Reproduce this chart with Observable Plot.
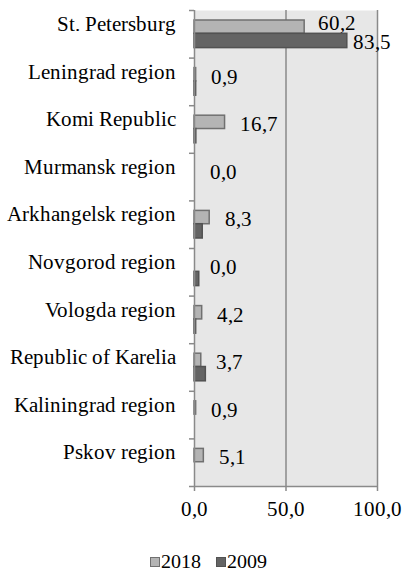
<!DOCTYPE html>
<html><head><meta charset="utf-8">
<script src="https://cdn.jsdelivr.net/npm/d3@7"></script>
<script src="https://cdn.jsdelivr.net/npm/@observablehq/plot@0.6"></script>
<style>
@font-face{font-family:"RefSerif";src:local("Liberation Serif"),local("LiberationSerif"),local("LiberationSerif-Regular"),local("Liberation Serif Regular"),local("Times New Roman"),local("DejaVu Serif"),local("DejaVuSerif"),local("Noto Serif"),local("NotoSerif-Regular");}
body{margin:0;background:#fff;font-family:"RefSerif","Liberation Serif","Times New Roman",Times,"DejaVu Serif",serif;position:relative;width:402px;height:572px;overflow:hidden;}
#legend{position:absolute;top:551px;left:150px;font-size:20px;line-height:20px;color:#000;white-space:nowrap;}
#legend .sw{display:inline-block;width:8px;height:8px;border:1px solid;vertical-align:1px;}
</style></head><body><div id="chart"></div><div id="legend"></div>
<script>
const categories = ["St. Petersburg","Leningrad region","Komi Republic","Murmansk region","Arkhangelsk region","Novgorod region","Vologda region","Republic of Karelia","Kaliningrad region","Pskov region"];
const values2018 = [60.2, 0.9, 16.7, 0.0, 8.3, 0.0, 4.2, 3.7, 0.9, 5.1];
const values2009 = [83.5, 0.9, 1.0, 0.0, 4.5, 2.6, 0.9, 6.2, 0.0, 0.0];
const labeled2009 = ["St. Petersburg"];
const xTicks = [0, 50, 100];
const seriesNames = ["2018", "2009"];
const seriesFill = ["#b4b4b4", "#646464"];
const seriesStroke = ["#707070", "#525252"];
const axisColor = "#8a8a8a";
const fontStack = "RefSerif, 'Liberation Serif', 'Times New Roman', Times, 'DejaVu Serif', serif";

const fmt = v => v.toFixed(1).replace(".", ",");
const rows = categories.map((c, i) => ({category: c, i, v2018: values2018[i], v2009: values2009[i]}));
const nudged = rows.filter(d => labeled2009.includes(d.category));
const plain = rows.filter(d => !labeled2009.includes(d.category));

const chart = Plot.plot({
  width: 402, height: 535,
  marginLeft: 194, marginRight: 25, marginTop: 10, marginBottom: 49,
  style: {fontFamily: fontStack, fontSize: "21px", color: "#000", background: "#fff"},
  x: {domain: [0, 100]},
  y: {domain: [categories.length, 0]},
  marks: [
    Plot.frame({fill: "#e7e7e7", stroke: null}),
    Plot.gridX(xTicks.slice(1), {stroke: axisColor, strokeOpacity: 1, strokeWidth: 1.5}),
    Plot.rect(rows.filter(d => d.v2018 > 0), {x1: 0, x2: "v2018", y1: d => d.i + 0.21, y2: d => d.i + 0.49, fill: seriesFill[0], stroke: seriesStroke[0], strokeWidth: 1.5}),
    Plot.rect(rows.filter(d => d.v2009 > 0), {x1: 0, x2: "v2009", y1: d => d.i + 0.49, y2: d => d.i + 0.79, fill: seriesFill[1], stroke: seriesStroke[1], strokeWidth: 1.5}),
    Plot.ruleX([0], {stroke: axisColor, strokeWidth: 1.5}),
    Plot.ruleY([categories.length], {stroke: axisColor, strokeWidth: 1.5}),
    Plot.axisY(d3.range(categories.length + 1), {tickSize: 5, tickFormat: () => "", stroke: axisColor, strokeWidth: 1.5}),
    Plot.axisX(xTicks, {tickSize: 5, tickPadding: 10, tickFormat: fmt, stroke: axisColor, strokeWidth: 1.5, fill: "#000", fontSize: 21, fontFamily: fontStack}),
    Plot.text(rows, {x: 0, y: d => d.i + 0.5, text: "category", textAnchor: "end", dx: -19, dy: -10, fontSize: 21, fontFamily: fontStack, fill: "#000"}),
    Plot.text(plain, {x: "v2018", y: d => d.i + 0.5, text: d => fmt(d.v2018), textAnchor: "start", dx: 15, dy: -5, fontSize: 21, fontFamily: fontStack, fill: "#000"}),
    Plot.text(nudged, {x: "v2018", y: d => d.i + 0.5, text: d => fmt(d.v2018), textAnchor: "start", dx: 13, dy: -11, fontSize: 21, fontFamily: fontStack, fill: "#000"}),
    Plot.text(nudged, {x: "v2009", y: d => d.i + 0.5, text: d => fmt(d.v2009), textAnchor: "start", dx: 6, dy: 8, fontSize: 21, fontFamily: fontStack, fill: "#000"})
  ]
});
document.getElementById("chart").appendChild(chart);

const legend = document.getElementById("legend");
seriesNames.forEach((name, k) => {
  const sw = document.createElement("span");
  sw.className = "sw";
  sw.style.background = seriesFill[k];
  sw.style.borderColor = seriesStroke[k];
  if (k > 0) sw.style.marginLeft = "15px";
  const t = document.createElement("span");
  t.textContent = name;
  t.style.marginLeft = "1px";
  legend.appendChild(sw);
  legend.appendChild(t);
});
</script>
</body></html>
